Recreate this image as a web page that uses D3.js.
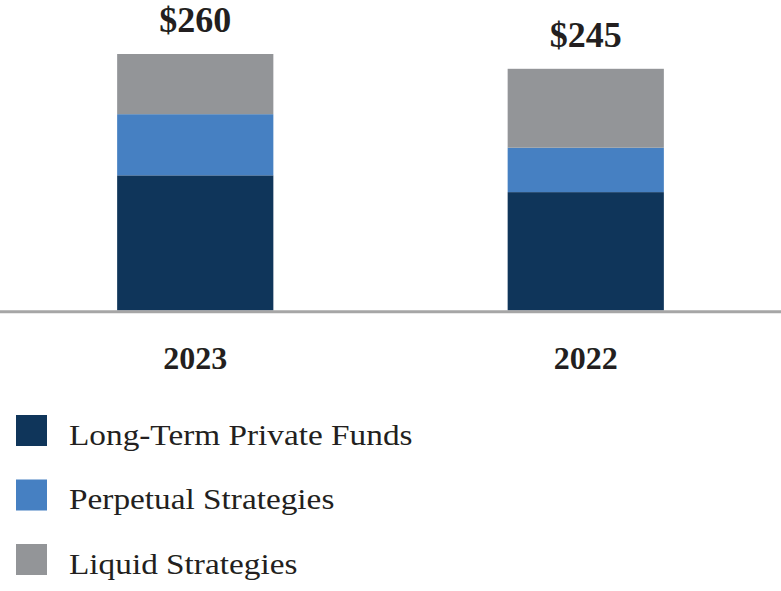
<!DOCTYPE html>
<html>
<head>
<meta charset="utf-8">
<script src="https://cdn.jsdelivr.net/npm/d3@7"></script>
<style>
  html, body { margin: 0; padding: 0; background: #fff; }
  svg { display: block; }
</style>
</head>
<body>
<div id="chart"></div>
<script>
// Chart data ($ billions)
const years = ['2023', '2022'];
const seriesNames = ['Long-Term Private Funds', 'Perpetual Strategies', 'Liquid Strategies'];
const longTermPrivate = [137, 120];
const perpetual = [62, 45];
const liquid = [61, 80];
const totalLabels = ['$260', '$245'];
const seriesColors = ['#0f355a', '#4680c2', '#939598'];

const width = 781;
const height = 591;
const baseline = 310.5;
const serif = '"Liberation Serif", "Times New Roman", serif';

const svg = d3.select('#chart').append('svg')
    .attr('width', width)
    .attr('height', height);

// Build stacked rows
const rows = years.map((yr, i) => ({
    year: yr,
    'Long-Term Private Funds': longTermPrivate[i],
    'Perpetual Strategies': perpetual[i],
    'Liquid Strategies': liquid[i]
}));
const stacked = d3.stack().keys(seriesNames)(rows);

// Scales
const x = d3.scaleBand()
    .domain(years)
    .range([0, 781])
    .paddingInner(0.6)
    .paddingOuter(0.3);

const y = d3.scaleLinear()
    .domain([0, 260])
    .range([baseline, 54]);

const color = d3.scaleOrdinal().domain(seriesNames).range(seriesColors);

// Bars
svg.append('g').selectAll('g')
    .data(stacked)
    .join('g')
    .attr('fill', d => color(d.key))
    .selectAll('rect')
    .data(d => d)
    .join('rect')
    .attr('x', d => x(d.data.year))
    .attr('y', d => y(d[1]))
    .attr('width', x.bandwidth())
    .attr('height', d => y(d[0]) - y(d[1]));

// Baseline
svg.append('line')
    .attr('x1', 0)
    .attr('x2', width)
    .attr('y1', baseline + 1.3)
    .attr('y2', baseline + 1.3)
    .attr('stroke', '#a6a6a6')
    .attr('stroke-width', 3);

// Total labels above bars
const topLayer = stacked[stacked.length - 1];
svg.append('g').selectAll('text')
    .data(topLayer)
    .join('text')
    .attr('x', d => x(d.data.year) + x.bandwidth() / 2)
    .attr('y', d => y(d[1]) - 22)
    .attr('text-anchor', 'middle')
    .attr('font-family', serif)
    .attr('font-weight', 'bold')
    .attr('font-size', '36px')
    .attr('fill', '#231f20')
    .text((d, i) => totalLabels[i]);

// Year labels
svg.append('g').selectAll('text')
    .data(years)
    .join('text')
    .attr('x', d => x(d) + x.bandwidth() / 2)
    .attr('y', 369)
    .attr('text-anchor', 'middle')
    .attr('font-family', serif)
    .attr('font-weight', 'bold')
    .attr('font-size', '32px')
    .attr('fill', '#231f20')
    .text(d => d);

// Legend
const legend = svg.append('g').selectAll('g')
    .data(seriesNames)
    .join('g')
    .attr('transform', (d, i) => `translate(16, ${415 + i * 64.5})`);

legend.append('rect')
    .attr('width', 31)
    .attr('height', 31)
    .attr('fill', d => color(d));

// reference legend type is set a bit wider than Liberation Serif
legend.append('text')
    .attr('transform', 'translate(53, 29.5) scale(1.11, 1)')
    .attr('font-family', serif)
    .attr('font-size', '30px')
    .attr('fill', '#231f20')
    .text(d => d);
</script>
</body>
</html>
